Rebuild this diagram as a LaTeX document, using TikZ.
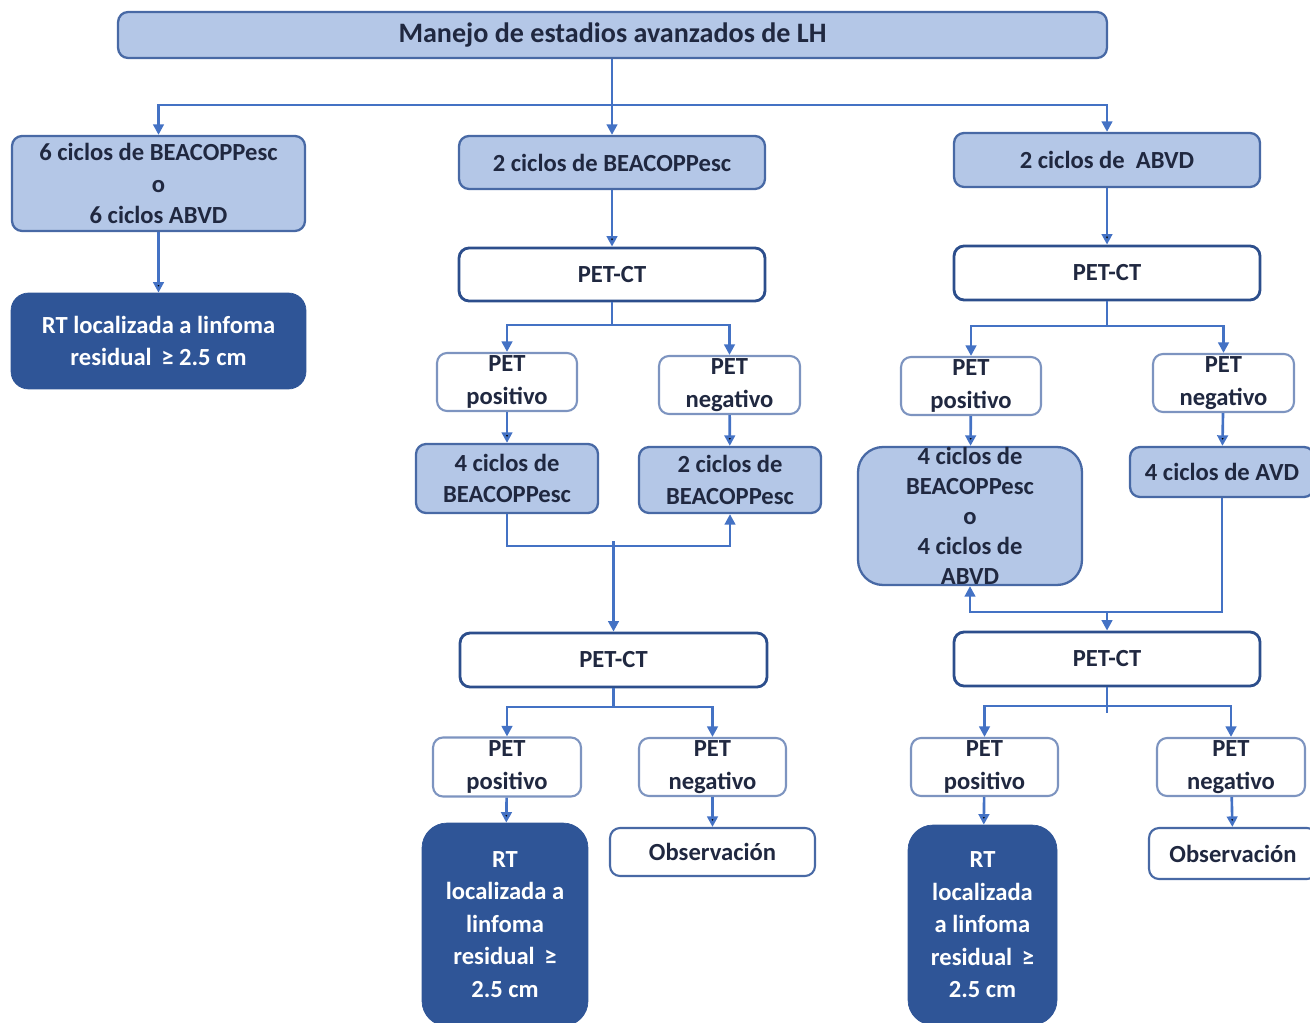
\documentclass[tikz,border=0pt]{standalone}
\usepackage{fontspec}
\setmainfont{Carlito}
\usepackage{tikz}
\usetikzlibrary{arrows}
\usetikzlibrary{arrows.meta}
\usetikzlibrary{calc}

\begin{document}
\begin{tikzpicture}[x=0.02cm,y=-0.02cm,
  every node/.style={text=textc,align=center,inner sep=0pt,font=\bfseries\fontsize{14}{18}\selectfont},
  lightbox/.style={draw=boxline,fill=lightc,line width=1.3pt,rounded corners=0.2cm},
  petctbox/.style={draw=petline,fill=white,line width=1.6pt,rounded corners=0.2cm},
  petbox/.style={draw=smallline,fill=white,line width=1.2pt,rounded corners=0.2cm,font=\bfseries\fontsize{14}{19}\selectfont},
  darkbox/.style={draw=darkc,fill=darkc,text=white,rounded corners=0.35cm},
  conn/.style={draw=linec,line width=1.5pt,-{Triangle[length=6pt,width=6pt]}},
  plain/.style={draw=linec,line width=1.5pt}]
\definecolor{lightc}{RGB}{180,199,231}
\definecolor{darkc}{RGB}{47,85,151}
\definecolor{linec}{RGB}{68,114,196}
\definecolor{boxline}{RGB}{72,105,165}
\definecolor{petline}{RGB}{44,78,140}
\definecolor{smallline}{RGB}{125,148,192}
\definecolor{textc}{RGB}{32,40,64}
\useasboundingbox (0,0) rectangle (1310,1023);
\clip (0,0) rectangle (1310,1023);
% cajas de arriba
\node[lightbox,minimum width=19.78cm,minimum height=0.92cm,font=\bfseries\fontsize{16}{18}\selectfont] (v1) at (612.5,35) {Manejo de estadios avanzados de LH};
\node[lightbox,minimum width=5.86cm,minimum height=1.9cm] (v2) at (158.5,183.5) {6 ciclos de BEACOPPesc\\o\\6 ciclos ABVD};
\node[darkbox,minimum width=5.9cm,minimum height=1.92cm] (v3) at (158.5,341) {RT localizada a linfoma\\residual \,≥ 2.5 cm};
\node[lightbox,minimum width=6.12cm,minimum height=1.06cm] (v4) at (612,162.5) {2 ciclos de BEACOPPesc};
\node[lightbox,minimum width=6.12cm,minimum height=1.08cm] (v5) at (1107,160) {2 ciclos de\ \ ABVD};
\node[petctbox,minimum width=6.12cm,minimum height=1.06cm] (v6) at (612,274.5) {PET-CT};
\node[petctbox,minimum width=6.12cm,minimum height=1.08cm] (v7) at (1107,273) {PET-CT};
% primer PET
\node[petbox,minimum width=2.8cm,minimum height=1.16cm] (v8) at (507,382) {PET\\positivo};
\node[petbox,minimum width=2.82cm,minimum height=1.16cm] (v9) at (729.5,385) {PET\\negativo};
\node[petbox,minimum width=2.8cm,minimum height=1.16cm] (v10) at (971,386) {PET\\positivo};
\node[petbox,minimum width=2.82cm,minimum height=1.16cm] (v11) at (1223.5,383) {PET\\negativo};
\node[lightbox,minimum width=3.64cm,minimum height=1.38cm] (v12) at (507,478.5) {4 ciclos de\\BEACOPPesc};
\node[lightbox,minimum width=3.64cm,minimum height=1.32cm] (v13) at (730,480) {2 ciclos de\\BEACOPPesc};
\node[lightbox,minimum width=4.48cm,minimum height=2.76cm,rounded corners=0.5cm,font=\bfseries\fontsize{14}{17}\selectfont] (v14) at (970,516) {4 ciclos de\\BEACOPPesc\\o\\4 ciclos de\\ABVD};
\node[lightbox,minimum width=3.68cm,minimum height=1cm] (v15) at (1222,472) {4 ciclos de AVD};
% segundo PET
\node[petctbox,minimum width=6.14cm,minimum height=1.08cm] (v16) at (613.5,660) {PET-CT};
\node[petctbox,minimum width=6.12cm,minimum height=1.08cm] (v17) at (1107,659) {PET-CT};
\node[petbox,minimum width=2.96cm,minimum height=1.18cm] (v18) at (507,767) {PET\\positivo};
\node[petbox,minimum width=2.94cm,minimum height=1.16cm] (v19) at (712.5,767) {PET\\negativo};
\node[petbox,minimum width=2.94cm,minimum height=1.16cm] (v20) at (984.5,767) {PET\\positivo};
\node[petbox,minimum width=2.96cm,minimum height=1.16cm] (v21) at (1231,767) {PET\\negativo};
\node[darkbox,rounded corners=0.5cm,minimum width=3.32cm,minimum height=4.06cm,font=\bfseries\fontsize{14}{18.5}\selectfont] (v22) at (505,924.5) {RT\\localizada a\\linfoma\\residual \,≥\\2.5 cm};
\node[petbox,draw=boxline,minimum width=4.1cm,minimum height=0.96cm] (v23) at (712.5,852) {Observación};
\node[darkbox,rounded corners=0.5cm,minimum width=2.98cm,minimum height=4cm,font=\bfseries\fontsize{14}{18.5}\selectfont] (v24) at (982.5,925) {RT\\localizada\\a linfoma\\residual \,≥\\2.5 cm};
\node[petbox,draw=boxline,minimum width=3.36cm,minimum height=1.02cm] (v25) at (1233,853.5) {Observación};
% flechas
\coordinate (c1) at (612,105);
\coordinate (c2) at (612,325);
\coordinate (c3) at (1107,326);
\coordinate (c4) at (613.5,546);
\coordinate (c5) at (1107,612);
\coordinate (c6) at (613.5,707);
\coordinate (c7) at (1107,706);
\draw[conn] (v4.north |- v1.south) -- (v4.north);
\draw[conn] (c1) -| (v2.north);
\draw[conn] (c1) -| (v5.north);
\draw[conn] (v2) edge (v3);
\draw[conn] (v4) edge (v6);
\draw[conn] (v5) edge (v7);
\draw[plain] (v6.south) -- (c2);
\draw[conn] (c2) -| (v8.north);
\draw[conn] (c2) -| (v9.north);
\draw[plain] (v7.south) -- (c3);
\draw[conn] (c3) -| (v10.north);
\draw[conn] (c3) -| (v11.north);
\draw[conn] (v8) edge (v12);
\draw[conn] (v9) edge (v13);
\draw[conn] (v10) edge (v14);
\draw[conn] (v11) edge (v15);
\draw[conn] (v12.south) |- (c4) -| (v13.south);
\draw[conn] (c4) ++(0,-5) -- (v16.north);
\draw[conn] (v15.south) |- (c5) -| (v14.south);
\draw[conn] (c5) -- (v17.north);
\draw[plain] (v16.south) -- (c6);
\draw[conn] (c6) -| (v18.north);
\draw[conn] (c6) -| (v19.north);
\draw[plain] (v17.south) -- ++(0,26);
\draw[conn] (c7) -| (v20.north);
\draw[conn] (c7) -| (v21.north);
\draw[conn] (v18) edge (v22);
\draw[conn] (v19) edge (v23);
\draw[conn] (v20) edge (v24);
\draw[conn] (v21) edge (v25);
\end{tikzpicture}
\end{document}
